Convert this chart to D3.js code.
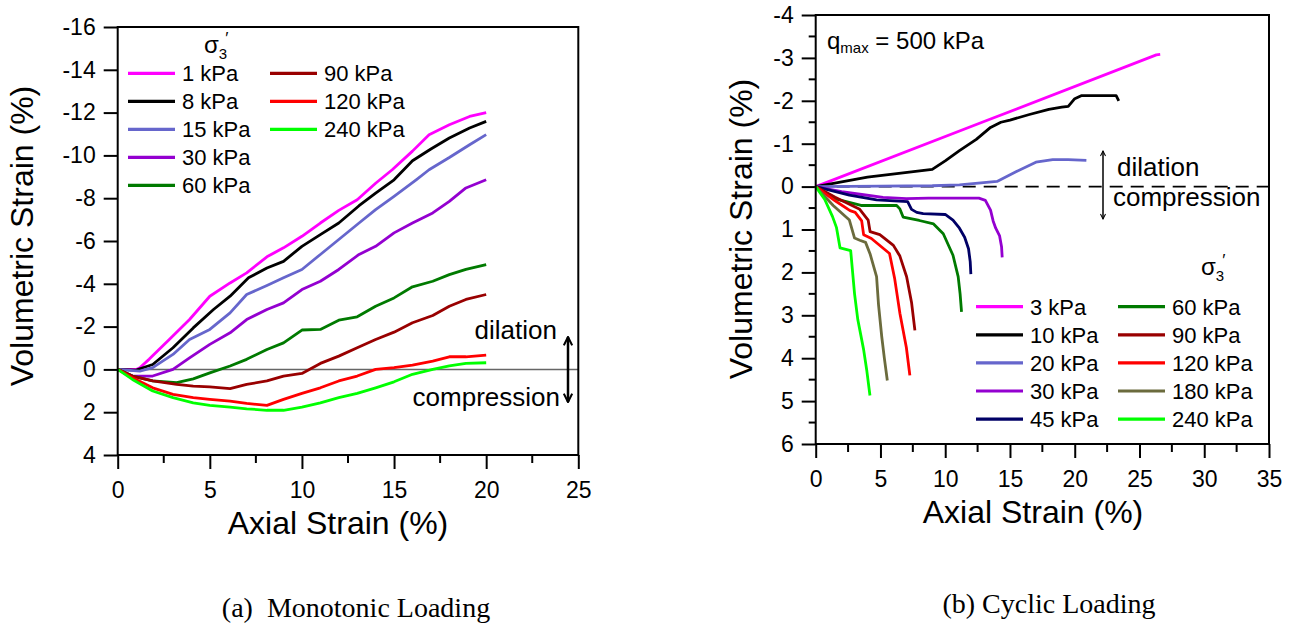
<!DOCTYPE html>
<html>
<head>
  <meta charset="UTF-8">
  <title>Volumetric strain vs axial strain</title>
  <script src="https://cdn.jsdelivr.net/npm/d3@7"></script>
  <style>
    body { margin: 0; background: #fff; }
    svg text { font-family: "Liberation Sans", Arial, Helvetica, sans-serif; fill: #000; }
    svg text.caption { font-family: "Liberation Serif", "Times New Roman", serif; white-space: pre; }
  </style>
</head>
<body>
<svg id="chart" width="1294" height="623"></svg>
<script>
// ---- (a) monotonic loading: [axial strain %, volumetric strain %]
const monoLabels = ['1 kPa', '8 kPa', '15 kPa', '30 kPa', '60 kPa', '90 kPa', '120 kPa', '240 kPa'];
const monoColors = ['#ff00ff', '#000000', '#6666cc', '#9400d0', '#007a00', '#990000', '#ff0000', '#00ff00'];
const mono1 = [[0,0],[1.0,0],[1.2,-0.08],[1.7,-0.47],[2.8,-1.4],[3.9,-2.33],[5.0,-3.42],[6.1,-4.04],[7.0,-4.51],[8.1,-5.26],[9.0,-5.68],[10.0,-6.22],[11.0,-6.84],[12.0,-7.43],[13.0,-7.93],[14.0,-8.7],[14.9,-9.33],[16.0,-10.2],[16.9,-10.97],[18.0,-11.43],[19.1,-11.82],[20.0,-12.0]];
const mono8 = [[0,0],[1.0,0.03],[1.9,-0.23],[3.0,-1.01],[4.1,-1.94],[5.2,-2.8],[6.1,-3.42],[7.1,-4.28],[8.1,-4.74],[9.0,-5.05],[10.0,-5.75],[11.0,-6.3],[12.0,-6.84],[13.1,-7.65],[14.0,-8.24],[15.0,-8.86],[16.0,-9.75],[17.0,-10.3],[18.0,-10.81],[19.1,-11.28],[20.0,-11.59]];
const mono15 = [[0,0],[1.2,0.08],[1.9,-0.08],[3.0,-0.7],[3.9,-1.4],[5.0,-1.87],[6.1,-2.64],[7.0,-3.5],[8.1,-3.92],[9.0,-4.28],[10.0,-4.67],[11.0,-5.37],[12.0,-6.07],[13.1,-6.84],[14.0,-7.47],[15.0,-8.09],[16.2,-8.86],[16.9,-9.33],[18.0,-9.9],[19.1,-10.5],[20.0,-10.97]];
const mono30 = [[0,0],[0.8,0.31],[1.9,0.31],[3.0,0],[3.9,-0.54],[5.0,-1.17],[6.1,-1.71],[7.0,-2.33],[8.1,-2.8],[9.0,-3.11],[10.0,-3.73],[11.0,-4.12],[12.0,-4.67],[13.1,-5.37],[14.0,-5.75],[15.0,-6.38],[16.0,-6.84],[17.1,-7.31],[18.0,-7.85],[18.9,-8.48],[20.0,-8.86]];
const mono60 = [[0,0],[0.8,0.31],[1.9,0.54],[3.2,0.62],[4.1,0.44],[5.0,0.16],[6.1,-0.16],[7.0,-0.47],[8.1,-0.93],[9.0,-1.24],[10.0,-1.84],[11.0,-1.87],[12.0,-2.3],[13.0,-2.46],[14.0,-2.95],[15.0,-3.34],[16.0,-3.86],[17.1,-4.12],[18.0,-4.43],[18.9,-4.67],[20.0,-4.9]];
const mono90 = [[0,0],[0.8,0.31],[1.9,0.54],[3.2,0.7],[4.1,0.78],[5.0,0.82],[6.1,0.9],[7.0,0.7],[8.1,0.54],[9.0,0.31],[10.0,0.19],[11.0,-0.28],[12.0,-0.62],[13.0,-1.01],[14.0,-1.4],[15.0,-1.74],[16.0,-2.18],[17.1,-2.52],[18.0,-2.95],[18.9,-3.27],[20.0,-3.5]];
const mono120 = [[0,0],[0.8,0.39],[1.9,0.86],[3.0,1.17],[4.1,1.32],[5.0,1.4],[6.1,1.48],[7.0,1.59],[8.1,1.68],[9.0,1.4],[10.0,1.12],[11.0,0.86],[12.0,0.54],[13.0,0.31],[14.0,0],[15.0,-0.08],[16.0,-0.2],[17.1,-0.39],[18.0,-0.59],[18.9,-0.59],[20.0,-0.67]];
const mono240 = [[0,0],[0.8,0.47],[1.9,1.01],[3.0,1.32],[4.1,1.56],[5.0,1.68],[6.1,1.76],[7.0,1.84],[8.1,1.91],[9.0,1.91],[10.0,1.76],[11.0,1.56],[12.0,1.32],[13.0,1.12],[14.0,0.86],[15.0,0.58],[16.0,0.23],[17.1,0],[18.0,-0.16],[18.9,-0.28],[20.0,-0.31]];
const monoXTicks = [0, 5, 10, 15, 20, 25];
const monoYTicks = [-16, -14, -12, -10, -8, -6, -4, -2, 0, 2, 4];

// ---- (b) cyclic loading
const cycLabels = ['3 kPa', '10 kPa', '20 kPa', '30 kPa', '45 kPa', '60 kPa', '90 kPa', '120 kPa', '180 kPa', '240 kPa'];
const cycColors = ['#ff00ff', '#000000', '#6666cc', '#9400d0', '#000066', '#007a00', '#990000', '#ff0000', '#6b6b3d', '#00ff00'];
const cyc3 = [[0,0],[13.2,-1.54],[26.3,-3.07],[26.6,-3.08]];
const cyc10 = [[0,0],[4,-0.22],[9,-0.4],[10,-0.6],[11.1,-0.84],[12.4,-1.1],[13.5,-1.38],[14.3,-1.5],[15,-1.55],[16.5,-1.68],[18,-1.8],[19,-1.85],[19.5,-1.87],[20,-2.05],[20.5,-2.12],[23.2,-2.12],[23.4,-2.0]];
const cyc20 = [[0,0],[5,-0.01],[9,-0.02],[11.1,-0.04],[14,-0.12],[15.5,-0.35],[17,-0.57],[18.3,-0.63],[19.5,-0.63],[20.9,-0.61]];
const cyc30 = [[0,0],[2,0.12],[3.7,0.19],[5.2,0.25],[7,0.28],[8.7,0.27],[12.6,0.27],[13.1,0.32],[13.5,0.55],[13.7,0.8],[13.9,0.97],[14.2,1.15],[14.35,1.4],[14.4,1.65]];
const cyc45 = [[0,0],[2.6,0.2],[4.7,0.31],[7.1,0.35],[7.4,0.53],[7.8,0.6],[8.3,0.63],[10,0.65],[10.6,0.78],[11.1,0.97],[11.5,1.18],[11.8,1.45],[11.93,1.75],[11.98,2.04]];
const cyc60 = [[0,0],[1.6,0.29],[3.5,0.44],[6.25,0.44],[6.5,0.52],[6.75,0.71],[8,0.79],[9.1,0.87],[9.85,1.1],[10.6,1.6],[11,2.1],[11.15,2.5],[11.26,2.92]];
const cyc90 = [[0,0],[1.5,0.25],[3.4,0.53],[4.05,0.78],[4.2,1.05],[4.95,1.12],[6,1.37],[6.5,1.62],[7.02,2.1],[7.4,2.7],[7.66,3.35]];
const cyc120 = [[0,0],[1.5,0.33],[2.65,0.56],[3.05,0.6],[3.55,0.8],[3.7,1.12],[4.3,1.21],[5.7,1.56],[6.1,2.15],[6.5,2.95],[7.0,3.75],[7.27,4.4]];
const cyc180 = [[0,0],[1.35,0.44],[2.6,0.78],[3.0,1.2],[3.4,1.25],[3.85,1.3],[4.2,1.57],[4.7,2.1],[4.85,2.75],[5.1,3.5],[5.3,4.0],[5.53,4.52]];
const cyc240 = [[0,0],[0.7,0.3],[1.3,0.7],[1.6,0.95],[1.88,1.43],[2.7,1.49],[3.0,2.5],[3.25,3.1],[3.7,3.8],[3.95,4.3],[4.19,4.87]];
const cycXTicks = [0, 5, 10, 15, 20, 25, 30, 35];
const cycYTicks = [-4, -3, -2, -1, 0, 1, 2, 3, 4, 5, 6];

const svg = d3.select('#chart');

function drawPanel(p)
{
  const x = d3.scaleLinear().domain(p.xDomain).range(p.xRange);
  const y = d3.scaleLinear().domain(p.yDomain).range(p.yRange);
  const g = svg.append('g');

  // minor ticks first so the axis sits on top
  g.append('g').selectAll('line').data(p.xMinor).join('line')
    .attr('x1', d => x(d)).attr('x2', d => x(d))
    .attr('y1', p.yRange[0]).attr('y2', p.yRange[0] + 8)
    .attr('stroke', '#000').attr('stroke-width', 2);
  g.append('g').selectAll('line').data(p.yMinor).join('line')
    .attr('x1', p.xRange[0] - 7).attr('x2', p.xRange[0])
    .attr('y1', d => y(d)).attr('y2', d => y(d))
    .attr('stroke', '#000').attr('stroke-width', 2);

  const xAxis = g.append('g').attr('transform', `translate(0,${p.yRange[0]})`)
    .call(d3.axisBottom(x).tickValues(p.xTicks).tickFormat(d => String(d)).tickSize(14).tickSizeOuter(0).tickPadding(13));
  const yAxis = g.append('g').attr('transform', `translate(${p.xRange[0]},0)`)
    .call(d3.axisLeft(y).tickValues(p.yTicks).tickFormat(d => String(d)).tickSize(14).tickSizeOuter(0).tickPadding(8));
  [xAxis, yAxis].forEach(a =>
  {
    a.selectAll('.domain').remove();
    a.selectAll('.tick line').attr('stroke', '#000').attr('stroke-width', 2);
    a.selectAll('.tick text').attr('font-size', 23).attr('fill', '#000')
      .style('font-family', '"Liberation Sans", Arial, sans-serif');
  });

  // zero reference line
  const zl = g.append('line')
    .attr('x1', x(p.xDomain[0])).attr('x2', x(p.xDomain[1]))
    .attr('y1', y(0)).attr('y2', y(0));
  if (p.dashedZero)
  {
    zl.attr('stroke', '#000').attr('stroke-width', 1.6).attr('stroke-dasharray', '13,8');
  }
  else
  {
    zl.attr('stroke', '#666').attr('stroke-width', 1.5);
  }

  const line = d3.line().x(d => x(d[0])).y(d => y(d[1]));
  g.append('g').selectAll('path').data(p.series).join('path')
    .attr('d', line)
    .attr('fill', 'none')
    .attr('stroke', (d, i) => p.colors[i])
    .attr('stroke-width', 2.8)
    .attr('stroke-linejoin', 'round');

  // frame
  g.append('rect')
    .attr('x', p.xRange[0]).attr('y', p.yRange[1])
    .attr('width', p.xRange[1] - p.xRange[0]).attr('height', p.yRange[0] - p.yRange[1])
    .attr('fill', 'none').attr('stroke', '#000').attr('stroke-width', 2);

  // axis titles
  g.append('text')
    .attr('x', p.xTitle[0]).attr('y', p.xTitle[1])
    .attr('text-anchor', 'middle').attr('font-size', 32)
    .text('Axial Strain (%)');
  g.append('text')
    .attr('transform', `translate(${p.yTitle[0]},${p.yTitle[1]}) rotate(-90)`)
    .attr('text-anchor', 'middle').attr('font-size', 32)
    .text('Volumetric Strain (%)');

  // legend
  const leg = g.append('g');
  p.labels.forEach((lab, i) =>
  {
    const col = i < p.perCol ? 0 : 1;
    const row = i % p.perCol;
    const lx = p.legendCols[col];
    const ly = p.legendY + row * p.legendStep;
    leg.append('line')
      .attr('x1', lx).attr('x2', lx + 47)
      .attr('y1', ly).attr('y2', ly)
      .attr('stroke', p.colors[i]).attr('stroke-width', 3.2);
    leg.append('text')
      .attr('x', lx + 54).attr('y', ly + 8)
      .attr('font-size', 22)
      .text(lab);
  });
  const sig = leg.append('text')
    .attr('x', p.sigma[0]).attr('y', p.sigma[1]).attr('font-size', 24);
  sig.append('tspan').text('σ');
  sig.append('tspan').attr('font-size', 15).attr('dy', 6).text('3');
  sig.append('tspan').attr('font-size', 17).attr('dy', -15).attr('dx', -2).text('′');

  // dilation / compression note
  const n = p.note;
  g.append('text').attr('x', n.dx).attr('y', n.dy).attr('font-size', 26)
    .attr('text-anchor', n.anchor).text('dilation');
  g.append('text').attr('x', n.cx).attr('y', n.cy).attr('font-size', 26)
    .attr('text-anchor', n.anchor).text('compression');
  g.append('line')
    .attr('x1', n.ax).attr('x2', n.ax).attr('y1', n.ay1).attr('y2', n.ay2)
    .attr('stroke', '#000').attr('stroke-width', n.w)
    .attr('marker-start', `url(#${n.marker})`).attr('marker-end', `url(#${n.marker})`);

  // caption
  g.append('text').attr('class', 'caption')
    .attr('x', p.caption[0]).attr('y', p.caption[1])
    .attr('text-anchor', 'middle').attr('font-size', 28)
    .text(p.caption[2]);

  return {x: x, y: y, g: g};
}

// arrow heads
const defs = svg.append('defs');
[['headBig', 2.5], ['headSmall', 1.5]].forEach(m =>
{
  defs.append('marker')
    .attr('id', m[0]).attr('viewBox', '0 0 10 10')
    .attr('refX', 9).attr('refY', 5)
    .attr('markerWidth', 4.2).attr('markerHeight', 4.2)
    .attr('markerUnits', 'strokeWidth')
    .attr('orient', 'auto-start-reverse')
    .append('path').attr('d', 'M1,1 L9,5 L1,9')
    .attr('fill', 'none').attr('stroke', '#000').attr('stroke-width', m[0] === 'headBig' ? 2 : 1.6);
});

drawPanel({
  xDomain: [0, 25], xRange: [117.7, 578.3],
  yDomain: [4, -16], yRange: [455, 27],
  xTicks: monoXTicks, yTicks: monoYTicks,
  xMinor: [2.5, 7.5, 12.5, 17.5, 22.5], yMinor: [],
  series: [mono1, mono8, mono15, mono30, mono60, mono90, mono120, mono240],
  colors: monoColors, labels: monoLabels,
  perCol: 5, legendCols: [128, 270], legendY: 73.3, legendStep: 28,
  sigma: [204, 53],
  dashedZero: false,
  xTitle: [338, 534], yTitle: [33, 236],
  note: {dx: 557, dy: 339, cx: 560, cy: 406, anchor: 'end', ax: 568, ay1: 337, ay2: 402, w: 2.5, marker: 'headBig'},
  caption: [356, 617, '(a)  Monotonic Loading']
});

const right = drawPanel({
  xDomain: [0, 35], xRange: [815.7, 1269],
  yDomain: [6, -4], yRange: [444, 15],
  xTicks: cycXTicks, yTicks: cycYTicks,
  xMinor: [2.5, 7.5, 12.5, 17.5, 22.5, 27.5, 32.5],
  yMinor: [-3.5, -2.5, -1.5, -0.5, 0.5, 1.5, 2.5, 3.5, 4.5, 5.5],
  series: [cyc3, cyc10, cyc20, cyc30, cyc45, cyc60, cyc90, cyc120, cyc180, cyc240],
  colors: cycColors, labels: cycLabels,
  perCol: 5, legendCols: [976, 1118], legendY: 306.7, legendStep: 28.1,
  sigma: [1201, 275],
  dashedZero: true,
  xTitle: [1033, 523], yTitle: [752, 229],
  note: {dx: 1117, dy: 176, cx: 1113, cy: 206, anchor: 'start', ax: 1103, ay1: 151, ay2: 219, w: 1.5, marker: 'headSmall'},
  caption: [1049, 613, '(b) Cyclic Loading']
});

// q max label
const q = right.g.append('text').attr('x', 827).attr('y', 49).attr('font-size', 24);
q.append('tspan').text('q');
q.append('tspan').attr('font-size', 15).attr('dy', 4).text('max');
q.append('tspan').attr('dy', -4).text(' = 500 kPa');
</script>
</body>
</html>
